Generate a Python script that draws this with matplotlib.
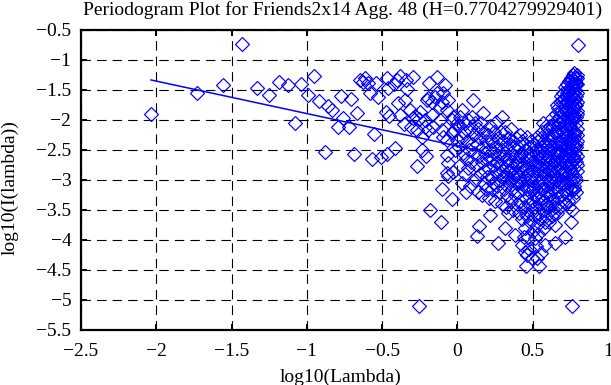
import matplotlib
matplotlib.use("Agg")
import matplotlib.pyplot as plt
import numpy as np

# gnuplot-style periodogram: log10(I(lambda)) vs log10(lambda)
title = "Periodogram Plot for Friends2x14 Agg. 48 (H=0.7704279929401)"
xlabel = "log10(Lambda)"
ylabel = "log10(I(lambda))"

xticks = [-2.5, -2.0, -1.5, -1.0, -0.5, 0.0, 0.5, 1.0]
xtick_labels = ["\u22122.5", "\u22122", "\u22121.5", "\u22121", "\u22120.5", "0", "0.5", "1"]
yticks = [-0.5, -1.0, -1.5, -2.0, -2.5, -3.0, -3.5, -4.0, -4.5, -5.0, -5.5]
ytick_labels = ["\u22120.5", "\u22121", "\u22121.5", "\u22122", "\u22122.5", "\u22123",
                "\u22123.5", "\u22124", "\u22124.5", "\u22125", "\u22125.5"]

# low frequencies (sparse part)
pts_low = [
    (-2.035, -1.905), (-1.732, -1.556), (-1.557, -1.417), (-1.431, -0.739),
    (-1.333, -1.467), (-1.252, -1.578), (-1.187, -1.372), (-1.123, -1.411),
    (-1.077, -2.056), (-1.037, -1.400), (-0.995, -1.583), (-0.955, -1.260),
    (-0.918, -1.683), (-0.882, -2.528), (-0.860, -1.767), (-0.833, -1.833),
    (-0.793, -2.111), (-0.774, -1.600), (-0.758, -1.972), (-0.720, -2.110),
    (-0.707, -1.656), (-0.687, -2.567), (-0.665, -1.889), (-0.647, -1.333),
    (-0.629, -1.361), (-0.614, -1.306), (-0.592, -1.389), (-0.581, -1.544),
    (-0.568, -2.656), (-0.554, -2.233), (-0.541, -1.378), (-0.526, -1.611),
    (-0.510, -2.611), (-0.475, -1.872), (-0.466, -1.306), (-0.466, -2.567),
    (-0.463, -1.472), (-0.453, -1.933), (-0.420, -1.400), (-0.415, -2.461),
    (-0.404, -1.333), (-0.397, -1.711), (-0.382, -1.261), (-0.382, -1.922),
    (-0.355, -2.067), (-0.351, -1.667), (-0.342, -1.333), (-0.333, -1.489),
    (-0.315, -1.833), (-0.311, -2.122), (-0.298, -1.278), (-0.293, -1.972),
    (-0.282, -1.933), (-0.271, -2.167), (-0.267, -2.767), (-0.254, -1.989),
    (-0.254, -5.100), (-0.249, -1.861), (-0.238, -2.500), (-0.238, -2.278),
    (-0.216, -2.111), (-0.216, -2.000), (-0.209, -2.600), (-0.205, -1.667),
    (-0.194, -1.639), (-0.194, -2.167), (-0.187, -1.389), (-0.181, -3.494),
    (-0.171, -1.917), (-0.171, -1.694), (-0.160, -2.111), (-0.149, -1.611),
    (-0.138, -1.278), (-0.138, -1.556), (-0.116, -1.778), (-0.116, -2.000),
    (-0.107, -3.706), (-0.105, -2.167), (-0.105, -1.694), (-0.101, -3.156),
    (-0.094, -1.544), (-0.094, -2.278), (-0.083, -1.417), (-0.072, -2.333),
    (-0.072, -2.583), (-0.072, -1.833), (-0.072, -2.889), (-0.061, -1.667),
    (-0.061, -2.722), (-0.061, -2.933), (-0.039, -2.000), (-0.039, -2.222),
    (-0.034, -3.322), (-0.028, -2.861), (-0.028, -1.944), (-0.023, -2.167),
    (-0.017, -2.500), (-0.006, -2.056), (-0.006, -2.333),
]

# high frequencies (dense part)
pts_high = [
    (0.004, -2.10), (0.010, -2.45), (0.015, -1.95), (0.020, -2.75), (0.024, -2.30),
    (0.028, -1.83), (0.033, -3.05), (0.038, -2.55), (0.042, -2.20), (0.047, -2.90),
    (0.051, -2.05), (0.056, -2.65), (0.060, -3.20), (0.064, -2.35), (0.069, -2.00),
    (0.073, -2.80), (0.078, -2.50), (0.082, -3.10), (0.086, -2.15), (0.090, -2.70),
    (0.095, -2.40), (0.099, -1.95),
    (0.105, -1.667), (0.108, -2.55), (0.112, -2.25), (0.116, -3.00), (0.120, -2.05),
    (0.124, -2.75), (0.127, -3.933), (0.131, -2.40), (0.135, -3.20), (0.138, -2.15),
    (0.143, -3.761), (0.146, -2.60), (0.150, -2.90), (0.153, -2.30), (0.157, -2.05),
    (0.160, -3.25), (0.164, -2.70), (0.168, -2.45), (0.171, -1.889), (0.175, -3.05),
    (0.178, -2.20), (0.182, -2.85), (0.186, -2.55), (0.189, -3.15), (0.193, -2.35),
    (0.196, -2.65), (0.199, -2.95),
    (0.202, -2.25), (0.205, -2.80), (0.209, -3.30), (0.212, -2.50), (0.216, -3.583),
    (0.219, -2.10), (0.222, -2.95), (0.225, -2.65), (0.229, -3.15), (0.232, -2.35),
    (0.235, -2.75), (0.238, -3.05), (0.241, -2.20), (0.245, -2.55), (0.248, -3.35),
    (0.251, -2.85), (0.254, -2.028), (0.257, -2.45), (0.260, -3.10), (0.263, -2.70),
    (0.267, -4.056), (0.270, -2.30), (0.273, -2.90), (0.276, -3.20), (0.279, -2.60),
    (0.282, -2.40), (0.285, -3.00), (0.288, -2.75), (0.291, -2.20), (0.293, -1.956),
    (0.296, -3.40), (0.299, -2.50),
    (0.302, -2.85), (0.305, -2.35), (0.308, -3.15), (0.311, -2.60), (0.315, -3.806),
    (0.317, -2.20), (0.320, -3.45), (0.323, -2.95), (0.326, -2.45), (0.329, -2.75),
    (0.332, -3.25), (0.335, -2.30), (0.338, -3.55), (0.341, -2.65), (0.344, -3.05),
    (0.347, -2.40), (0.350, -2.85), (0.353, -3.35), (0.356, -2.55), (0.359, -2.15),
    (0.362, -3.15), (0.365, -2.70), (0.368, -2.95), (0.371, -3.50), (0.374, -2.45),
    (0.377, -2.80), (0.380, -3.25), (0.382, -3.917), (0.385, -2.60), (0.388, -3.05),
    (0.391, -2.30), (0.394, -3.40), (0.397, -2.90),
    (0.310, -2.95), (0.325, -2.65), (0.340, -2.85), (0.355, -3.00), (0.370, -2.35),
    (0.386, -2.75),
    (0.400, -2.70), (0.403, -3.20), (0.405, -2.45), (0.408, -3.55), (0.411, -2.95),
    (0.413, -2.25), (0.416, -3.35), (0.419, -2.80), (0.421, -3.05), (0.424, -2.55),
    (0.426, -4.083), (0.429, -3.65), (0.431, -2.35), (0.434, -3.15), (0.436, -2.75),
    (0.439, -3.45), (0.441, -2.60), (0.444, -3.00), (0.446, -3.80), (0.448, -4.194),
    (0.451, -2.50), (0.453, -4.428), (0.456, -3.30), (0.459, -2.278), (0.461, -2.90),
    (0.463, -3.60), (0.466, -2.65), (0.468, -3.10), (0.471, -3.95), (0.473, -2.45),
    (0.476, -3.40), (0.478, -2.80), (0.480, -3.20), (0.483, -2.55), (0.485, -3.70),
    (0.487, -3.00), (0.490, -2.35), (0.492, -3.50), (0.494, -2.70), (0.497, -4.306),
    (0.499, -3.15),
    (0.400, -3.05), (0.415, -2.60), (0.430, -2.85), (0.445, -2.40), (0.460, -3.15),
    (0.475, -2.60), (0.490, -2.95), (0.465, -4.25), (0.475, -4.15), (0.440, -3.95),
    (0.455, -3.55), (0.500, -3.85),
    (0.501, -2.60), (0.503, -3.35), (0.505, -2.85), (0.507, -3.60), (0.509, -2.40),
    (0.511, -3.10), (0.513, -2.70), (0.515, -3.972), (0.517, -3.45), (0.519, -2.95),
    (0.521, -2.50), (0.524, -3.25), (0.526, -2.289), (0.528, -3.75), (0.530, -2.80),
    (0.532, -3.05), (0.534, -2.60), (0.536, -3.55), (0.538, -2.35), (0.541, -4.428),
    (0.543, -3.20), (0.545, -2.90), (0.547, -3.40), (0.549, -2.65), (0.551, -3.65),
    (0.554, -4.222), (0.556, -2.45), (0.558, -3.00), (0.560, -2.75), (0.562, -3.30),
    (0.564, -2.20), (0.566, -3.50), (0.568, -2.85), (0.570, -3.15), (0.572, -2.55),
    (0.574, -3.80), (0.576, -2.35), (0.578, -3.05), (0.581, -4.083), (0.583, -2.70),
    (0.585, -3.40), (0.587, -2.10), (0.589, -2.95), (0.591, -3.60), (0.593, -2.45),
    (0.595, -3.20), (0.597, -2.80), (0.599, -2.25),
    (0.505, -3.15), (0.520, -2.75), (0.535, -3.30), (0.548, -2.50), (0.530, -4.30),
    (0.520, -4.10), (0.535, -3.90), (0.552, -2.30), (0.557, -3.15), (0.563, -2.60),
    (0.569, -3.35), (0.575, -2.90), (0.580, -2.40), (0.586, -3.10), (0.592, -2.65),
    (0.598, -3.40), (0.571, -2.05), (0.584, -3.70),
    (0.601, -3.45), (0.603, -2.60), (0.605, -3.05), (0.607, -2.35), (0.609, -3.70),
    (0.611, -2.85), (0.613, -3.25), (0.615, -2.10), (0.617, -2.70), (0.619, -3.50),
    (0.621, -2.95), (0.623, -2.45), (0.625, -1.972), (0.627, -3.15), (0.629, -2.75),
    (0.631, -3.60), (0.633, -2.25), (0.635, -2.90), (0.637, -3.35), (0.639, -2.55),
    (0.641, -2.05), (0.643, -3.05), (0.645, -2.80), (0.647, -4.056), (0.647, -3.75),
    (0.649, -2.40), (0.651, -3.45), (0.653, -1.90), (0.655, -2.65), (0.657, -3.20),
    (0.659, -2.20), (0.661, -2.95), (0.663, -3.55), (0.665, -2.50), (0.667, -1.80),
    (0.669, -2.85), (0.671, -3.30), (0.673, -2.35), (0.675, -2.05), (0.677, -3.10),
    (0.679, -2.70), (0.681, -1.70), (0.683, -3.45), (0.685, -2.55), (0.687, -2.15),
    (0.689, -2.90), (0.691, -1.60), (0.692, -1.678), (0.694, -3.25), (0.696, -2.40),
    (0.698, -1.90),
    (0.604, -2.15), (0.610, -2.50), (0.616, -3.00), (0.622, -2.30), (0.628, -2.85),
    (0.634, -3.30), (0.640, -2.70), (0.646, -2.20), (0.652, -3.00), (0.658, -2.55),
    (0.664, -2.00), (0.670, -2.60), (0.676, -2.35), (0.682, -2.80), (0.688, -1.85),
    (0.693, -2.20), (0.697, -2.65), (0.662, -1.75), (0.672, -1.95), (0.684, -2.05),
    (0.695, -3.00), (0.618, -2.35), (0.636, -2.10), (0.644, -3.55), (0.606, -3.25),
    (0.701, -2.60), (0.702, -1.55), (0.704, -3.05), (0.705, -2.20), (0.707, -1.75),
    (0.708, -2.85), (0.710, -3.35), (0.711, -2.40), (0.713, -1.45), (0.714, -3.944),
    (0.715, -2.05), (0.716, -2.70), (0.718, -1.85), (0.719, -3.15), (0.720, -2.30),
    (0.722, -1.60), (0.723, -2.55), (0.724, -2.95),
    (0.726, -1.40), (0.727, -2.15), (0.728, -3.25), (0.729, -1.95), (0.731, -2.75),
    (0.732, -1.70), (0.733, -2.45), (0.734, -3.05), (0.736, -1.50), (0.737, -2.25),
    (0.738, -2.90), (0.739, -1.85), (0.741, -3.45), (0.742, -2.60), (0.743, -1.35),
    (0.744, -2.05), (0.746, -2.80), (0.747, -1.65), (0.748, -3.15), (0.749, -2.35),
    (0.751, -1.45), (0.752, -2.70), (0.753, -1.90), (0.754, -3.694), (0.755, -2.50),
    (0.756, -1.30), (0.757, -2.15), (0.758, -3.167), (0.758, -5.094), (0.759, -1.75),
    (0.760, -3.50), (0.761, -2.90), (0.762, -1.55), (0.763, -2.35), (0.764, -2.00),
    (0.765, -3.30), (0.766, -1.25), (0.767, -2.65), (0.768, -1.85), (0.769, -3.00),
    (0.770, -1.40), (0.771, -2.25), (0.772, -2.80), (0.773, -1.65), (0.774, -2.45),
    (0.775, -1.22), (0.776, -3.10), (0.777, -1.95), (0.778, -2.55), (0.779, -1.35),
    (0.780, -1.75), (0.781, -2.95), (0.782, -1.50), (0.783, -2.20), (0.784, -1.28),
    (0.785, -2.70), (0.786, -1.60), (0.787, -2.05), (0.788, -3.20), (0.789, -1.40),
    (0.790, -2.40), (0.791, -1.85), (0.792, -1.25), (0.793, -2.60), (0.794, -1.55),
    (0.795, -2.15), (0.796, -1.70), (0.797, -2.85), (0.798, -0.744),
    (0.703, -2.00), (0.706, -2.45), (0.709, -1.65), (0.712, -2.90), (0.717, -2.15),
    (0.721, -3.40), (0.725, -1.80), (0.730, -2.35), (0.735, -2.65), (0.740, -1.55),
    (0.745, -3.00), (0.750, -2.10), (0.753, -1.35), (0.756, -2.85), (0.759, -2.40),
    (0.762, -1.95), (0.765, -2.60), (0.768, -1.45), (0.771, -3.15), (0.774, -1.80),
    (0.777, -2.30), (0.780, -2.65), (0.783, -1.65), (0.786, -2.45), (0.789, -1.95),
    (0.792, -2.25), (0.795, -1.40), (0.797, -1.90), (0.778, -1.30), (0.770, -1.95),
    (0.760, -1.60), (0.750, -2.55), (0.742, -1.75), (0.733, -2.00), (0.727, -2.50),
    (0.719, -1.70), (0.712, -2.60), (0.785, -3.00), (0.791, -2.75), (0.796, -2.35),
    (0.782, -1.40), (0.788, -1.75), (0.794, -1.30), (0.776, -1.55), (0.766, -2.20),
    (0.758, -1.40), (0.745, -1.90), (0.737, -3.35), (0.728, -1.55), (0.717, -2.25),
]

# least-squares line (slope 1-2H)
fit_x = [-2.035, 0.15]
fit_y = [-1.333, -2.515]

plt.rcParams["font.family"] = ["Liberation Serif", "DejaVu Serif"]
plt.rcParams["font.size"] = 14

pts = np.array(pts_low + pts_high)
blue = "#0000ff"

fig = plt.figure(figsize=(6.11, 3.85), dpi=100)
ax = fig.add_axes([81 / 611, 55 / 385, 527 / 611, 300 / 385])

ax.plot(pts[:, 0], pts[:, 1], linestyle="none", marker="D", markersize=7.2,
        markerfacecolor="none", markeredgecolor=blue, markeredgewidth=0.85, zorder=3)
ax.plot(fit_x, fit_y, color=blue, linewidth=1.1, zorder=4)

ax.set_xlim(-2.5, 1.0)
ax.set_ylim(-5.5, -0.5)
ax.set_xticks(xticks)
ax.set_xticklabels(xtick_labels)
ax.set_yticks(yticks)
ax.set_yticklabels(ytick_labels)
ax.tick_params(direction="in", top=True, right=True, length=4.5, width=1.4,
               labelsize=14, pad=7)
ax.tick_params(axis="x", pad=9)
ax.grid(True, color="black", linestyle=(0, (8.5, 5.5)), linewidth=0.8)
for sp in ax.spines.values():
    sp.set_linewidth(1.6)

fig.text(343 / 611, 1 - 15 / 385, title, ha="center", va="baseline", fontsize=14)
fig.text(341 / 611, 1 - 382 / 385, xlabel, ha="center", va="baseline", fontsize=14)
fig.text(10 / 611, 0.5 + 5 / 385, ylabel, ha="center", va="center", rotation=90, fontsize=14)

fig.savefig("out.png", dpi=100)
